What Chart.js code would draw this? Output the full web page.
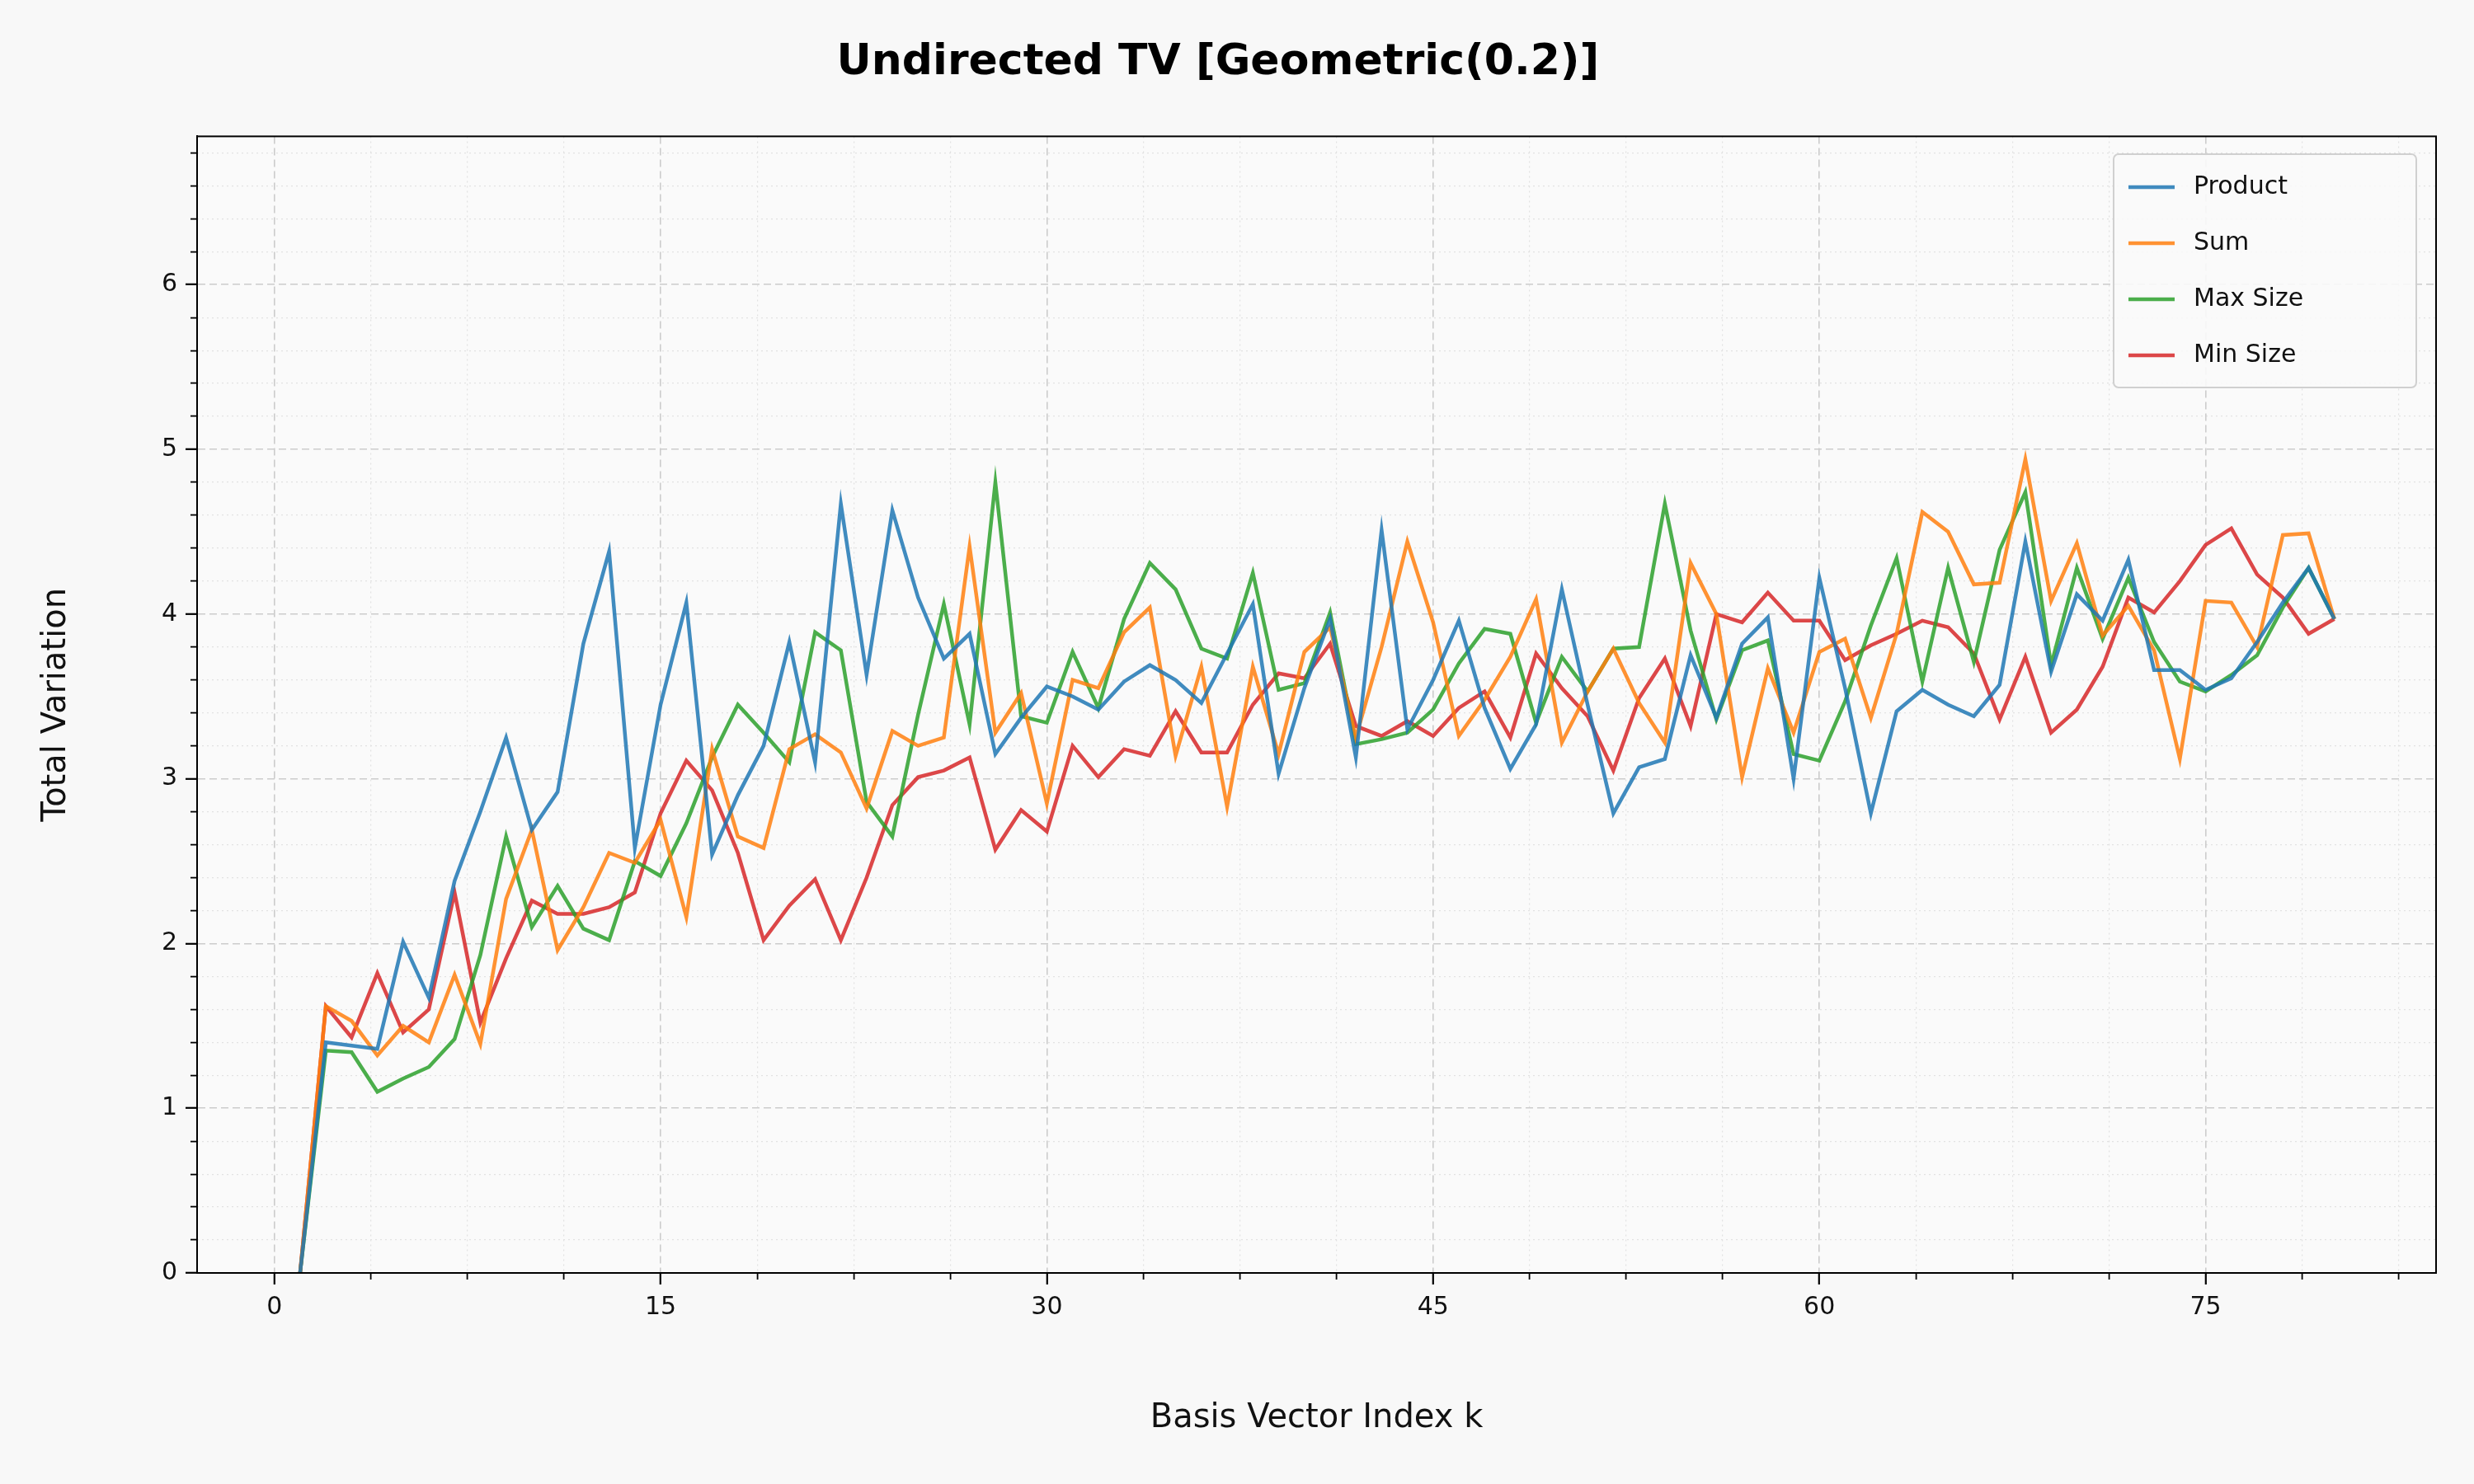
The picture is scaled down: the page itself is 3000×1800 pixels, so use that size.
<!DOCTYPE html>
<html><head><meta charset="utf-8">
<script src="https://cdn.jsdelivr.net/npm/chart.js@4.4.0/dist/chart.umd.min.js"></script>
<style>html,body{margin:0;padding:0;background:#f8f8f8;}canvas{display:block;}</style>
</head><body>
<canvas id="c" width="3000" height="1800" style="width:3000px;height:1800px"></canvas>
<script>
const ks = Array.from({length:80},(_,i)=>i+1);
const product = [0,1.40,1.38,1.36,2.01,1.67,2.38,2.80,3.25,2.69,2.92,3.82,4.38,2.58,3.45,4.07,2.54,2.90,3.20,3.83,3.10,4.67,3.63,4.63,4.10,3.73,3.88,3.15,3.37,3.56,3.50,3.42,3.59,3.69,3.60,3.46,3.76,4.06,3.03,3.55,3.97,3.13,4.51,3.30,3.60,3.96,3.43,3.06,3.33,4.15,3.45,2.79,3.07,3.12,3.75,3.37,3.82,3.98,3.00,4.22,3.55,2.79,3.41,3.54,3.45,3.38,3.57,4.44,3.65,4.12,3.96,4.33,3.66,3.66,3.54,3.61,3.83,4.07,4.28,3.97];
const sum = [0,1.62,1.53,1.32,1.50,1.40,1.81,1.39,2.27,2.69,1.96,2.22,2.55,2.49,2.75,2.16,3.18,2.65,2.58,3.18,3.27,3.16,2.82,3.29,3.20,3.25,4.41,3.28,3.52,2.85,3.60,3.55,3.89,4.04,3.14,3.68,2.83,3.68,3.15,3.77,3.92,3.25,3.80,4.44,3.95,3.26,3.48,3.74,4.09,3.22,3.53,3.79,3.46,3.22,4.31,4.00,3.01,3.67,3.28,3.77,3.85,3.37,3.88,4.62,4.50,4.18,4.19,4.94,4.08,4.43,3.87,4.05,3.78,3.12,4.08,4.07,3.80,4.48,4.49,3.97];
const maxSize = [0,1.35,1.34,1.10,1.18,1.25,1.42,1.93,2.65,2.10,2.35,2.09,2.02,2.50,2.41,2.73,3.13,3.45,3.28,3.10,3.89,3.78,2.86,2.65,3.39,4.06,3.33,4.80,3.38,3.34,3.77,3.43,3.97,4.31,4.15,3.79,3.73,4.25,3.54,3.58,4.01,3.21,3.24,3.28,3.42,3.70,3.91,3.88,3.34,3.74,3.53,3.79,3.80,4.67,3.90,3.36,3.78,3.84,3.15,3.11,3.47,3.93,4.34,3.59,4.28,3.71,4.39,4.74,3.69,4.28,3.85,4.22,3.83,3.59,3.53,3.63,3.75,4.04,4.28,3.97];
const minSize = [0,1.62,1.43,1.82,1.46,1.60,2.31,1.52,1.91,2.26,2.18,2.18,2.22,2.31,2.79,3.11,2.93,2.55,2.02,2.23,2.39,2.02,2.40,2.84,3.01,3.05,3.13,2.57,2.81,2.68,3.20,3.01,3.18,3.14,3.41,3.16,3.16,3.45,3.64,3.61,3.82,3.32,3.26,3.35,3.26,3.43,3.53,3.25,3.76,3.55,3.38,3.05,3.49,3.73,3.32,4.00,3.95,4.13,3.96,3.96,3.72,3.81,3.88,3.96,3.92,3.76,3.36,3.74,3.28,3.42,3.68,4.10,4.01,4.20,4.42,4.52,4.24,4.10,3.88,3.97];
const seriesNames = ['Product','Sum','Max Size','Min Size'];
const seriesColors = ['rgba(31,119,180,0.85)','rgba(255,127,14,0.85)','rgba(44,160,44,0.85)','rgba(214,39,40,0.85)'];
const xMajor = [0,15,30,45,60,75];
const xMinor = Array.from({length:23},(_,i)=>i*3.75).filter(v=>v%15!==0);
const yMajor = [0,1,2,3,4,5,6];
const yMinor = Array.from({length:35},(_,i)=>Math.round(i*2)/10).filter(v=>Math.abs(v-Math.round(v))>1e-6);

const allData=[product,sum,maxSize,minSize];
const datasets = allData.map((arr,i)=>({label:seriesNames[i],data:arr.map((v,j)=>({x:ks[j],y:v})),borderColor:seriesColors[i],backgroundColor:seriesColors[i],borderWidth:4.5,pointRadius:0,tension:0,xAxisID:'x',yAxisID:'y'}));

const font='"DejaVu Sans", sans-serif';
const setTicks = arr => s => { s.ticks = arr.map(v=>({value:v})); };

const frame = {id:'frame',afterDatasetsDraw(ch){const {ctx,chartArea:a}=ch;ctx.save();ctx.strokeStyle='#000';ctx.lineWidth=2;ctx.strokeRect(a.left,a.top,a.right-a.left,a.bottom-a.top);
 const lx=2563,ly=187,lw=367,lh=283;
 ctx.fillStyle='rgba(250,250,250,0.9)';ctx.strokeStyle='#d0d0d0';ctx.lineWidth=2;
 ctx.beginPath();ctx.roundRect(lx,ly,lw,lh,6);ctx.fill();ctx.stroke();
 ctx.font='30px '+font;ctx.textBaseline='middle';
 seriesNames.forEach((n,i)=>{const yy=ly+40+i*68;ctx.strokeStyle=seriesColors[i];ctx.lineWidth=4.5;ctx.beginPath();ctx.moveTo(lx+18,yy);ctx.lineTo(lx+74,yy);ctx.stroke();ctx.fillStyle='#111';ctx.fillText(n,lx+97,yy);});
 ctx.restore();}};
const bg={id:'bg',beforeDraw(ch){const {ctx,chartArea:a}=ch;ctx.save();ctx.fillStyle='#f8f8f8';ctx.fillRect(0,0,ch.width,ch.height);ctx.fillStyle='#fafafa';ctx.fillRect(a.left,a.top,a.right-a.left,a.bottom-a.top);ctx.restore();}};

new Chart(document.getElementById('c'),{
 type:'line',
 data:{datasets},
 plugins:[bg,frame],
 options:{
  responsive:false,animation:false,devicePixelRatio:1,
  layout:{padding:{left:0,right:46,top:0,bottom:0}},
  plugins:{legend:{display:false},tooltip:{enabled:false},
   title:{display:true,text:'Undirected TV [Geometric(0.2)]',color:'#000',font:{family:font,size:52,weight:'bold'},padding:{top:45,bottom:58}}},
  scales:{
   xm:{type:'linear',position:'bottom',min:-3,max:83.95,afterBuildTicks:setTicks(xMinor),afterFit(s){s.height=0;},
     ticks:{display:false},grid:{color:'#e2e2e2',lineWidth:1.2,tickLength:8,tickColor:'#000',tickWidth:1.8},border:{display:false,dash:[2,4]}},
   ym:{type:'linear',position:'left',min:0,max:6.9,afterBuildTicks:setTicks(yMinor),afterFit(s){s.width=0;},
     ticks:{display:false},grid:{color:'#e2e2e2',lineWidth:1.2,tickLength:8,tickColor:'#000',tickWidth:1.8},border:{display:false,dash:[2,4]}},
   x:{type:'linear',position:'bottom',min:-3,max:83.95,afterBuildTicks:setTicks(xMajor),afterFit(s){s.height=256;},
     ticks:{color:'#111',font:{family:font,size:30},padding:10,maxRotation:0},
     grid:{color:'#cccccc',lineWidth:1.6,tickLength:14,tickColor:'#000',tickWidth:2.2},border:{color:'#000',width:2,dash:[9,5]},
     title:{display:true,text:'Basis Vector Index k',color:'#111',font:{family:font,size:40},padding:{top:0,bottom:55}}},
   y:{type:'linear',position:'left',min:0,max:6.9,afterBuildTicks:setTicks(yMajor),afterFit(s){s.width=239;},
     ticks:{color:'#111',font:{family:font,size:30},padding:10},
     grid:{color:'#cccccc',lineWidth:1.6,tickLength:14,tickColor:'#000',tickWidth:2.2},border:{color:'#000',width:2,dash:[9,5]},
     title:{display:true,text:'Total Variation',color:'#111',font:{family:font,size:40},padding:{top:45,bottom:0}}}
  }
 }
});
</script></body></html>
